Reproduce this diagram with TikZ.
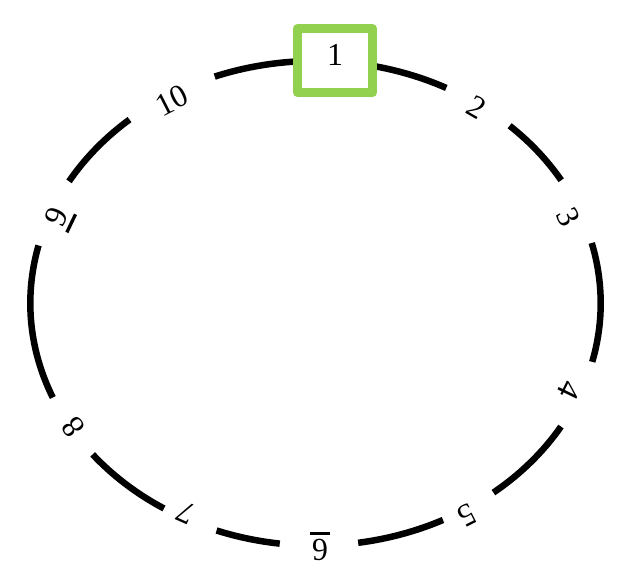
\documentclass[tikz,border=0pt]{standalone}
\usepackage{fontspec}
\setmainfont{Liberation Serif}
\usetikzlibrary{calc}
\definecolor{boxgreen}{HTML}{92D050}
\newcommand\ulnum[1]{\vtop{\hbox to 20pt{\hfil#1\hfil}\kern3.3pt\hrule height 3.3pt}}
\begin{document}
\begin{tikzpicture}[x=1pt,y=1pt,
  ring/.style={line width=6.5pt, draw=black},
  lbl/.style={inner sep=0pt, font=\fontsize{32}{38}\selectfont},
  startbox/.style={draw=boxgreen, line width=8.7pt, line join=round, fill=white,
    minimum width=75pt, minimum height=64.4pt, inner sep=0pt,
    text height=22pt, text depth=11pt, font=\fontsize{32}{38}\selectfont}]
\useasboundingbox (0,0) rectangle (625,580);
\coordinate (c) at (315.5,276.75);
\foreach \a/\b [count=\i] in {110.7/62.7, 47.1/30.5, 14.4/-14.0, -30.6/-51.4,
    -63.45/-81.4, -97.2/-110.3, -122.1/-141.4, -157.1/-193.8, -210.2/-229.3}{
  \coordinate (s\i) at ($(c)+(\a:285.2pt and 242.3pt)$);
  \draw[ring] (s\i) arc[start angle=\a, end angle=\b, x radius=285.2pt, y radius=242.3pt];
}
\node[startbox] (n1) at (335,519.5) {1};
\node[lbl, rotate=-30] (n2) at (477,473) {2};
\node[lbl, rotate=-64] (n3) at (568,363) {3};
\node[lbl, rotate=-116] (n4) at (569,190) {4};
\node[lbl, rotate=-153] (n5) at (467,65) {5};
\node[lbl, rotate=180] (n6) at (320,33.75) {\ulnum{6}};
\node[lbl, rotate=156] (n7) at (185.5,67.3) {7};
\node[lbl, rotate=126] (n8) at (73,153) {8};
\node[lbl, rotate=64.5] (n9) at (60,362) {\ulnum{9}};
\node[lbl, rotate=27] (n10) at (171.5,479.5) {10};
\end{tikzpicture}
\end{document}
